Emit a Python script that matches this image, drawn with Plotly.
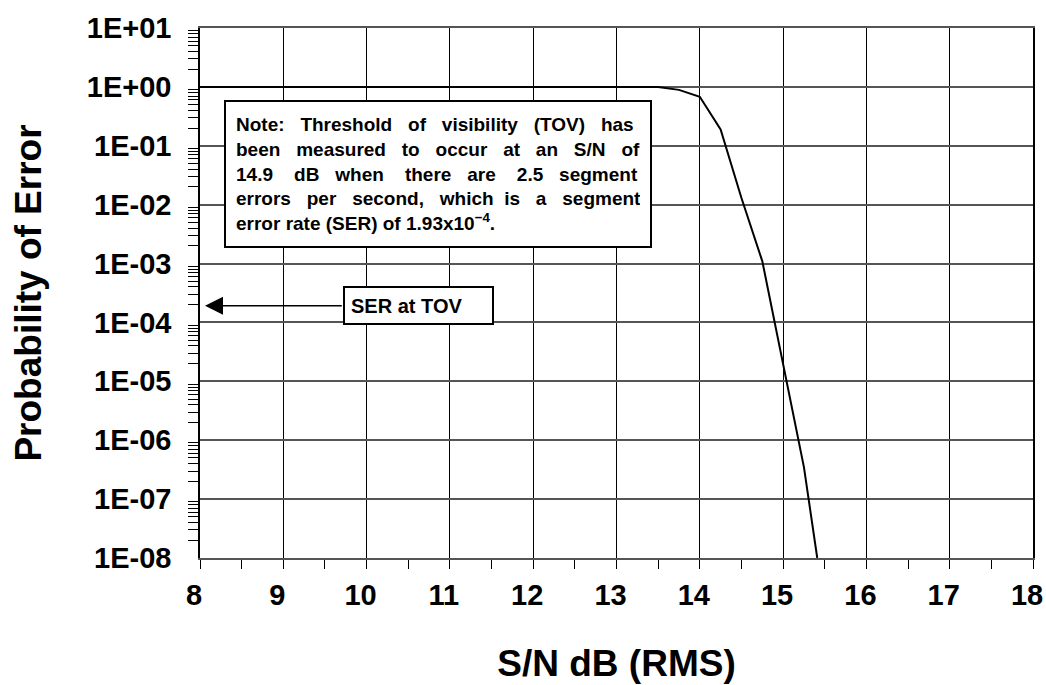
import math
import plotly.graph_objects as go

# Data
snr_db = [8.0, 13.5, 13.75, 14.0, 14.25, 14.5, 14.75, 15.0, 15.25, 15.41]
prob_error = [1.0, 1.0, 0.89, 0.68, 0.19, 0.013, 1.1e-3, 2.0e-5, 3.5e-7, 1.0e-8]

y_tick_vals = [1e1, 1e0, 1e-1, 1e-2, 1e-3, 1e-4, 1e-5, 1e-6, 1e-7, 1e-8]
y_tick_text = ["1E+01", "1E+00", "1E-01", "1E-02", "1E-03", "1E-04", "1E-05", "1E-06", "1E-07", "1E-08"]
x_tick_vals = [8, 9, 10, 11, 12, 13, 14, 15, 16, 17, 18]

ser_tov = 1.93e-4
ser_arrow_tip_x = 8.06
ser_label_x = 9.72

# note text, lines justified with non-breaking spaces (gap sizes per line)
note_words = [
    (["Note:", "Threshold", "of", "visibility", "(TOV)", "has"], [3, 3, 3, 3, 3]),
    (["been", "measured", "to", "occur", "at", "an", "S/N", "of"], [3, 3, 3, 3, 3, 3, 3]),
    (["14.9", "dB", "when", "there", "are", "2.5", "segment"], [4, 3, 4, 3, 4, 3]),
    (["errors", "per", "second,", "which", "is", "a", "segment"], [3, 3, 3, 2, 3, 3]),
    (["error", "rate", "(SER)", "of", "1.93x10<sup>\u22124</sup>."], [1, 1, 1, 1]),
]


def justify(words, gaps):
    out = words[0]
    for w, g in zip(words[1:], gaps):
        out += "\u00a0" * g + w
    return out


note_text = "<br>".join(justify(w, g) for w, g in note_words)

minor_y = [m * 10 ** e for e in range(-8, 1) for m in range(2, 10)]

FONT = "Liberation Sans, Arial, sans-serif"

fig = go.Figure()
fig.add_trace(go.Scatter(x=snr_db, y=prob_error, mode="lines",
                         line=dict(color="black", width=2), showlegend=False))

fig.update_layout(
    width=1046, height=685,
    margin=dict(l=200, r=13, t=28, b=127),
    paper_bgcolor="white", plot_bgcolor="white",
    font=dict(family=FONT, color="black"),
    xaxis=dict(
        range=[8, 18], tickmode="array", tickvals=x_tick_vals,
        ticks="outside", ticklen=9, tickcolor="black",
        showgrid=True, gridcolor="black", gridwidth=1,
        showline=True, linecolor="#555", linewidth=2, mirror=True,
        zeroline=False, automargin=False, ticklabeloverflow="allow",
        ticklabelstandoff=1, ticklabelshift=-6,
        tickfont=dict(size=29, family=FONT, weight="bold"),
        minor=dict(dtick=0.5, ticks="outside", ticklen=9, tickcolor="black", showgrid=False),
        title=dict(text="S/N dB (RMS)", font=dict(size=37, family=FONT, weight="bold"), standoff=40),
    ),
    yaxis=dict(
        type="log", range=[-8, 1], tickmode="array",
        tickvals=y_tick_vals, ticktext=y_tick_text,
        ticks="", showgrid=True, gridcolor="#555", gridwidth=2,
        showline=True, linecolor="black", linewidth=1.5, mirror=True,
        zeroline=False, automargin=False, ticklabelstandoff=21,
        tickfont=dict(size=29, family=FONT, weight="bold"),
        minor=dict(tickvals=minor_y, ticks="outside", ticklen=10, tickcolor="black", showgrid=False),
        title=dict(text="Probability of Error", font=dict(size=37, family=FONT, weight="bold"), standoff=34),
    ),
)

fig.add_annotation(
    xref="x", yref="paper", x=8.29, y=0.864, xanchor="left", yanchor="top",
    text=note_text, showarrow=False, align="left",
    font=dict(size=19, family=FONT, weight="bold", color="black"),
    bgcolor="white", bordercolor="black", borderwidth=2, borderpad=10,
    width=404, height=124,
)

fig.add_annotation(
    xref="x", yref="y", x=ser_arrow_tip_x, y=math.log10(ser_tov),
    ax=ser_label_x, ay=math.log10(ser_tov), axref="x", ayref="y",
    text="", showarrow=True, arrowhead=2, arrowsize=2.4, arrowwidth=1.5,
    arrowcolor="black",
)
fig.add_annotation(
    xref="x", yref="y", x=ser_label_x, y=math.log10(ser_tov),
    xanchor="left", yanchor="middle",
    text="SER at TOV", showarrow=False, align="left",
    font=dict(size=20, family=FONT, weight="bold", color="black"),
    bgcolor="white", bordercolor="black", borderwidth=2, borderpad=6,
    width=135, height=23,
)

fig.write_html(
    "out.html",
    config={"displayModeBar": False},
    post_script="document.body.style.margin='0';document.body.style.overflow='hidden';",
)
